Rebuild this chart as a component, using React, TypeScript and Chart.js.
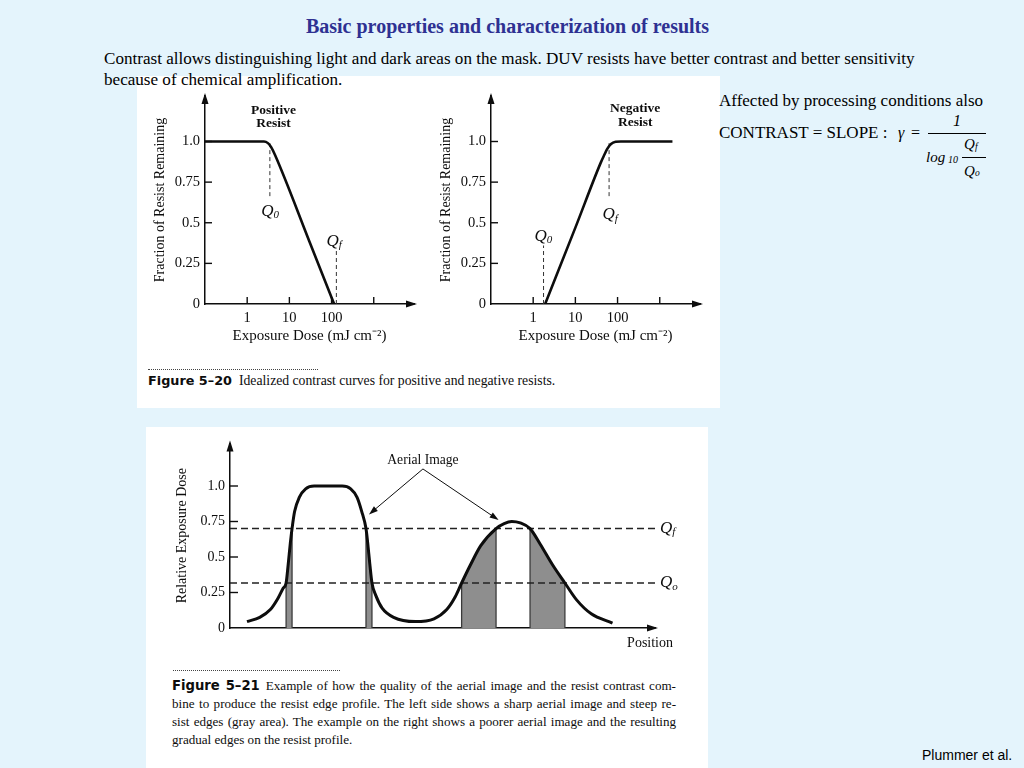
import { useEffect, useRef } from 'react';
import { Chart, registerables } from 'chart.js';

Chart.register(...registerables);

// ---------------- data ----------------
const fractionTicks = [0, 0.25, 0.5, 0.75, 1.0];
const fractionTickLabels = ['0', '0.25', '0.5', '0.75', '1.0'];
const doseTicks = [1, 10, 100, 1000];
const doseTickLabels = ['1', '10', '100', ''];

// Figure 5-20, positive resist
const positiveDose = [0.1, 2.5, 3.1, 3.7, 4.6, 30, 115];
const positiveFraction = [1.0, 1.0, 0.99, 0.965, 0.915, 0.383, 0.0];
const positiveQ0Dose = [3.45, 3.45];
const positiveQ0Fraction = [0.99, 0.65];
const positiveQfDose = [130, 130];
const positiveQfFraction = [0.0, 0.34];

// Figure 5-20, negative resist
const negativeDose = [1.92, 10, 40, 48, 57, 70, 90, 120, 2000];
const negativeFraction = [0.0, 0.47, 0.87, 0.915, 0.955, 0.985, 0.998, 1.0, 1.0];
const negativeQ0Dose = [1.76, 1.76];
const negativeQ0Fraction = [0.0, 0.36];
const negativeQfDose = [63, 63];
const negativeQfFraction = [0.99, 0.65];

// Figure 5-21, aerial image
const exposureTicks = [0, 0.25, 0.5, 0.75, 1.0];
const exposureTickLabels = ['0', '0.25', '0.5', '0.75', '1.0'];
const aerialPosition = [
  4.0, 7.0, 9.5, 11.3, 12.5, 13.2, 13.7, 14.2, 14.6, 15.2, 16.3, 17.8, 19.8,
  26.4, 28.4, 29.9, 31.0, 32.0, 32.4, 32.9, 33.4, 34.3, 35.8, 38.5, 43.6,
  48.0, 51.0, 53.0, 54.5, 56.5, 59.0, 62.6, 64.5, 66.3, 68.3, 70.6, 73.0,
  76.0, 78.8, 81.5, 85.0, 90.0,
];
const aerialExposure = [
  0.045, 0.075, 0.13, 0.21, 0.28, 0.317, 0.45, 0.6, 0.7, 0.82, 0.92, 0.98, 1.0,
  1.0, 0.98, 0.92, 0.82, 0.7, 0.6, 0.45, 0.317, 0.23, 0.14, 0.075, 0.045,
  0.065, 0.13, 0.22, 0.317, 0.44, 0.58, 0.7, 0.735, 0.75, 0.74, 0.7, 0.59,
  0.44, 0.317, 0.2, 0.1, 0.035,
];
const levelQf = 0.7;
const levelQo = 0.317;
const edgeStarts = [13.2, 32.0, 54.5, 70.6];
const edgeEnds = [14.6, 33.4, 62.6, 78.8];

// ---------------- helpers ----------------
const SERIF = '"Liberation Serif", "Times New Roman", serif';
const INK = '#0d0d0d';

type Part = { t: string; font: string; dy?: number; gap?: number };

const qLabel = (sub: string): Part[] => [
  { t: 'Q', font: `italic 17px ${SERIF}` },
  { t: sub, font: `italic 11px ${SERIF}`, dy: 4 },
];

function drawRich(ctx: CanvasRenderingContext2D, parts: Part[], x: number, y: number, align: string) {
  let total = 0;
  parts.forEach((p) => {
    ctx.font = p.font;
    total += ctx.measureText(p.t).width + (p.gap || 0);
  });
  let cx = align === 'center' ? x - total / 2 : align === 'right' ? x - total : x;
  ctx.textAlign = 'left';
  ctx.textBaseline = 'middle';
  parts.forEach((p) => {
    ctx.font = p.font;
    ctx.fillText(p.t, cx, y + (p.dy || 0));
    cx += ctx.measureText(p.t).width + (p.gap || 0);
  });
}

const arrowsPlugin = {
  id: 'axisArrows',
  afterDraw(chart: any) {
    const { ctx, chartArea } = chart;
    const { left, right, top, bottom } = chartArea;
    ctx.save();
    ctx.fillStyle = INK;
    ctx.beginPath();
    ctx.moveTo(left, top - 3);
    ctx.lineTo(left - 3.5, top + 8);
    ctx.lineTo(left + 3.5, top + 8);
    ctx.closePath();
    ctx.fill();
    ctx.beginPath();
    ctx.moveTo(right + 3, bottom);
    ctx.lineTo(right - 8, bottom - 3.5);
    ctx.lineTo(right - 8, bottom + 3.5);
    ctx.closePath();
    ctx.fill();
    ctx.restore();
  },
};

const innerTicksPlugin = {
  id: 'innerTicks',
  afterDraw(chart: any, _a: any, opts: any) {
    const { ctx, chartArea } = chart;
    ctx.save();
    ctx.strokeStyle = INK;
    ctx.lineWidth = 1.4;
    (opts.x || []).forEach((v: number) => {
      const px = chart.scales.x.getPixelForValue(v);
      ctx.beginPath();
      ctx.moveTo(px, chartArea.bottom);
      ctx.lineTo(px, chartArea.bottom - opts.len);
      ctx.stroke();
    });
    (opts.y || []).forEach((v: number) => {
      const py = chart.scales.y.getPixelForValue(v);
      ctx.beginPath();
      ctx.moveTo(chartArea.left, py);
      ctx.lineTo(chartArea.left + opts.len, py);
      ctx.stroke();
    });
    ctx.restore();
  },
};

const notesPlugin = {
  id: 'notes',
  afterDraw(chart: any, _a: any, opts: any) {
    const { ctx } = chart;
    const sx = chart.scales.x;
    const sy = chart.scales.y;
    ctx.save();
    ctx.fillStyle = INK;
    ctx.strokeStyle = INK;
    (opts.arrows || []).forEach((a: any) => {
      const x1 = sx.getPixelForValue(a.x1);
      const y1 = sy.getPixelForValue(a.y1);
      const x2 = sx.getPixelForValue(a.x2);
      const y2 = sy.getPixelForValue(a.y2);
      const ang = Math.atan2(y2 - y1, x2 - x1);
      ctx.lineWidth = 1;
      ctx.beginPath();
      ctx.moveTo(x1, y1);
      ctx.lineTo(x2 - 6 * Math.cos(ang), y2 - 6 * Math.sin(ang));
      ctx.stroke();
      ctx.beginPath();
      ctx.moveTo(x2, y2);
      ctx.lineTo(x2 - 9 * Math.cos(ang) + 3 * Math.sin(ang), y2 - 9 * Math.sin(ang) - 3 * Math.cos(ang));
      ctx.lineTo(x2 - 9 * Math.cos(ang) - 3 * Math.sin(ang), y2 - 9 * Math.sin(ang) + 3 * Math.cos(ang));
      ctx.closePath();
      ctx.fill();
    });
    (opts.items || []).forEach((n: any) => {
      const px = sx.getPixelForValue(n.x) + (n.dx || 0);
      const py = sy.getPixelForValue(n.y) + (n.dy || 0);
      drawRich(ctx, n.parts, px, py, n.align || 'center');
    });
    ctx.restore();
  },
};

const pts = (xs: number[], ys: number[]) => xs.map((x, i) => ({ x, y: ys[i] }));

function resistChart(
  canvas: HTMLCanvasElement,
  dose: number[], frac: number[],
  q0x: number[], q0y: number[], qfx: number[], qfy: number[],
  items: any[],
) {
  const tickFont = { family: SERIF, size: 14.5 };
  return new Chart(canvas, {
    type: 'line',
    data: {
      datasets: [
        { data: pts(dose, frac), borderColor: INK, borderWidth: 2.6, pointRadius: 0, cubicInterpolationMode: 'monotone', fill: false },
        { data: pts(q0x, q0y), borderColor: '#333', borderWidth: 1, borderDash: [4, 3], pointRadius: 0, fill: false },
        { data: pts(qfx, qfy), borderColor: '#333', borderWidth: 1, borderDash: [4, 3], pointRadius: 0, fill: false },
      ],
    },
    options: {
      animation: false,
      responsive: false,
      maintainAspectRatio: false,
      layout: { padding: { top: 16, right: 16, left: 0, bottom: 0 } },
      plugins: {
        legend: { display: false },
        tooltip: { enabled: false },
        innerTicks: { x: doseTicks, y: fractionTicks.slice(1), len: 7 },
        notes: { items },
      },
      scales: {
        x: {
          type: 'logarithmic',
          min: 0.1,
          max: 9000,
          afterFit: (s: any) => { s.height = 46; },
          afterBuildTicks: (s: any) => { s.ticks = doseTicks.map((v) => ({ value: v })); },
          ticks: { callback: (_v: any, i: number) => doseTickLabels[i], font: tickFont, color: INK, padding: 5, autoSkip: false, maxRotation: 0 },
          grid: { display: false, drawTicks: false },
          border: { display: true, color: INK, width: 1.5 },
          title: { display: true, text: 'Exposure Dose (mJ cm\u207B\u00B2)', font: { family: SERIF, size: 15 }, color: INK, padding: { top: 0, bottom: 5 } },
        },
        y: {
          type: 'linear',
          min: 0,
          max: 1.28,
          afterFit: (s: any) => { s.width = 65; },
          afterBuildTicks: (s: any) => { s.ticks = fractionTicks.map((v) => ({ value: v })); },
          ticks: { callback: (_v: any, i: number) => fractionTickLabels[i], font: tickFont, color: INK, padding: 5, autoSkip: false },
          grid: { display: false, drawTicks: false },
          border: { display: true, color: INK, width: 1.5 },
          title: { display: true, text: 'Fraction of Resist Remaining', font: { family: SERIF, size: 14 }, color: INK, padding: { top: 12, bottom: 0 } },
        },
      },
    } as any,
    plugins: [innerTicksPlugin, arrowsPlugin, notesPlugin],
  });
}

function aerialChart(canvas: HTMLCanvasElement) {
  const curve = pts(aerialPosition, aerialExposure);
  const yAt = (x: number) => aerialExposure[aerialPosition.indexOf(x)];
  const bands = edgeStarts.map((s, i) => ({
    data: curve.filter((p) => p.x >= s && p.x <= edgeEnds[i]),
    borderWidth: 0,
    borderColor: 'rgba(0,0,0,0)',
    backgroundColor: '#8e8e8e',
    pointRadius: 0,
    cubicInterpolationMode: 'monotone',
    fill: 'origin',
  }));
  const edges = [...edgeStarts, ...edgeEnds].map((x) => ({
    data: [{ x, y: 0 }, { x, y: yAt(x) }],
    borderColor: '#3a3a3a',
    borderWidth: 1.3,
    pointRadius: 0,
    fill: false,
  }));
  const tickFont = { family: SERIF, size: 14 };
  return new Chart(canvas, {
    type: 'line',
    data: {
      datasets: [
        { data: curve, borderColor: INK, borderWidth: 3, pointRadius: 0, cubicInterpolationMode: 'monotone', fill: false },
        { data: [{ x: 0, y: levelQf }, { x: 100, y: levelQf }], borderColor: '#222', borderWidth: 1.5, borderDash: [7, 4], pointRadius: 0, fill: false },
        { data: [{ x: 0, y: levelQo }, { x: 100, y: levelQo }], borderColor: '#222', borderWidth: 1.5, borderDash: [7, 4], pointRadius: 0, fill: false },
        ...edges,
        ...bands,
      ],
    },
    options: {
      animation: false,
      responsive: false,
      maintainAspectRatio: false,
      layout: { padding: { top: 8, right: 45, left: 0, bottom: 0 } },
      plugins: {
        legend: { display: false },
        tooltip: { enabled: false },
        innerTicks: { y: exposureTicks.slice(1), len: 8 },
        notes: {
          items: [
            { x: 45.4, y: 1.18, parts: [{ t: 'Aerial Image', font: `13.6px ${SERIF}` }] },
            { x: 100, y: levelQf, dx: 5, align: 'left', parts: qLabel('f') },
            { x: 100, y: levelQo, dx: 5, align: 'left', parts: qLabel('o') },
            { x: 100, y: 0, dx: 18, dy: 15, align: 'right', parts: [{ t: 'Position', font: `14px ${SERIF}` }] },
          ],
          arrows: [
            { x1: 45.4, y1: 1.12, x2: 32.7, y2: 0.8 },
            { x1: 45.4, y1: 1.12, x2: 63.2, y2: 0.76 },
          ],
        },
      },
      scales: {
        x: {
          type: 'linear',
          min: 0,
          max: 100,
          afterFit: (s: any) => { s.height = 32; },
          ticks: { display: false },
          grid: { display: false, drawTicks: false },
          border: { display: true, color: INK, width: 1.5 },
        },
        y: {
          type: 'linear',
          min: 0,
          max: 1.3,
          afterFit: (s: any) => { s.width = 80; },
          afterBuildTicks: (s: any) => { s.ticks = exposureTicks.map((v) => ({ value: v })); },
          ticks: { callback: (_v: any, i: number) => exposureTickLabels[i], font: tickFont, color: INK, padding: 5, autoSkip: false },
          grid: { display: false, drawTicks: false },
          border: { display: true, color: INK, width: 1.5 },
          title: { display: true, text: 'Relative Exposure Dose', font: { family: SERIF, size: 14 }, color: INK, padding: { top: 24, bottom: 0 } },
        },
      },
    } as any,
    plugins: [innerTicksPlugin, arrowsPlugin, notesPlugin],
  });
}

const abs = (left: number, top: number, extra: any = {}) => ({ position: 'absolute' as const, left, top, ...extra });

export default function App() {
  const c1 = useRef<HTMLCanvasElement>(null);
  const c2 = useRef<HTMLCanvasElement>(null);
  const c3 = useRef<HTMLCanvasElement>(null);

  useEffect(() => {
    const B = `bold 13.5px ${SERIF}`;
    const charts = [
      resistChart(c1.current!, positiveDose, positiveFraction, positiveQ0Dose, positiveQ0Fraction, positiveQfDose, positiveQfFraction, [
        { x: 4.2, y: 1.19, parts: [{ t: 'Positive', font: B }] },
        { x: 4.2, y: 1.11, parts: [{ t: 'Resist', font: B }] },
        { x: 3.5, y: 0.572, parts: qLabel('0') },
        { x: 115, y: 0.386, parts: qLabel('f') },
      ]),
      resistChart(c2.current!, negativeDose, negativeFraction, negativeQ0Dose, negativeQ0Fraction, negativeQfDose, negativeQfFraction, [
        { x: 262, y: 1.2, parts: [{ t: 'Negative', font: B }] },
        { x: 262, y: 1.115, parts: [{ t: 'Resist', font: B }] },
        { x: 1.75, y: 0.418, parts: qLabel('0') },
        { x: 67, y: 0.55, parts: qLabel('f') },
      ]),
      aerialChart(c3.current!),
    ];
    return () => charts.forEach((c) => c.destroy());
  }, []);

  const serif = SERIF;
  const text = { fontFamily: serif, color: '#000', whiteSpace: 'nowrap' as const };

  return (
    <div style={{ position: 'absolute', left: 0, top: 0, width: 1024, height: 768, background: '#e4f4fc', overflow: 'hidden', fontFamily: serif }}>
      <div style={abs(137, 76, { width: 583, height: 332, background: '#fff' })} />
      <div style={abs(146, 427, { width: 562, height: 341, background: '#fff' })} />

      <div style={abs(0, 14, { width: 1015, textAlign: 'center', font: `bold 20px ${serif}`, lineHeight: '24px', color: '#2e3192', whiteSpace: 'nowrap' })}>
        Basic properties and characterization of results
      </div>

      <div style={abs(104, 48, { ...text, fontSize: 17.1, lineHeight: '21px' })}>
        Contrast allows distinguishing light and dark areas on the mask. DUV resists have better contrast and better sensitivity
      </div>
      <div style={abs(104, 69, { ...text, fontSize: 17.1, lineHeight: '21px' })}>
        because of chemical amplification.
      </div>

      <div style={abs(719, 90, { ...text, fontSize: 17, lineHeight: '21px' })}>Affected by processing conditions also</div>
      <div style={abs(719, 122, { ...text, fontSize: 17, lineHeight: '21px' })}>CONTRAST = SLOPE :</div>
      <div style={abs(898, 122, { ...text, fontSize: 16, lineHeight: '21px', fontStyle: 'italic' })}>γ</div>
      <div style={abs(911, 122, { ...text, fontSize: 16, lineHeight: '21px' })}>=</div>
      <div style={abs(953, 110, { ...text, fontSize: 16, lineHeight: '21px', fontStyle: 'italic' })}>1</div>
      <div style={abs(928, 133, { width: 58, height: 1, background: '#000' })} />
      <div style={abs(926, 147, { ...text, fontSize: 15, lineHeight: '20px', fontStyle: 'italic' })}>log</div>
      <div style={abs(948, 153, { ...text, fontSize: 10, lineHeight: '14px', fontStyle: 'italic' })}>10</div>
      <div style={abs(964, 134, { ...text, fontSize: 15, lineHeight: '20px', fontStyle: 'italic' })}>Q</div>
      <div style={abs(975, 141, { ...text, fontSize: 9.5, lineHeight: '12px', fontStyle: 'italic' })}>f</div>
      <div style={abs(962, 157, { width: 24, height: 1, background: '#000' })} />
      <div style={abs(964, 161, { ...text, fontSize: 15, lineHeight: '20px', fontStyle: 'italic' })}>Q</div>
      <div style={abs(975, 167, { ...text, fontSize: 9.5, lineHeight: '12px', fontStyle: 'italic' })}>o</div>

      <canvas ref={c1} width={290} height={270} style={abs(140, 80, { width: 290, height: 270 })} />
      <canvas ref={c2} width={290} height={270} style={abs(426, 80, { width: 290, height: 270 })} />
      <canvas ref={c3} width={550} height={230} style={abs(150, 430, { width: 550, height: 230 })} />

      <div style={abs(148, 369, { width: 170, borderTop: '1px dotted #444' })} />
      <div style={abs(148, 372, { ...text, fontSize: 13.7, lineHeight: '18px', color: INK })}>
        <span style={{ fontFamily: '"DejaVu Sans", sans-serif', fontWeight: 'bold', fontSize: 12.8, marginRight: 7 }}>Figure 5–20</span>
        Idealized contrast curves for positive and negative resists.
      </div>

      <div style={abs(173, 670, { width: 167, borderTop: '1px dotted #444' })} />
      {[
        ['Example of how the quality of the aerial image and the resist contrast com-', true],
        ['bine to produce the resist edge profile. The left side shows a sharp aerial image and steep re-', true],
        ['sist edges (gray area). The example on the right shows a poorer aerial image and the resulting', true],
        ['gradual edges on the resist profile.', false],
      ].map(([t, just], i) => (
        <div
          key={i}
          style={abs(172, 677 + i * 18, {
            width: 504,
            fontFamily: serif,
            fontSize: 13.1,
            lineHeight: '18px',
            color: INK,
            textAlign: just ? 'justify' : 'left',
            textAlignLast: just ? 'justify' : 'left',
          })}
        >
          {i === 0 && (
            <span style={{ fontFamily: '"DejaVu Sans", sans-serif', fontWeight: 'bold', fontSize: 13.2, marginRight: 6 }}>Figure 5–21</span>
          )}
          {t as string}
        </div>
      ))}

      <div style={abs(922, 746, { fontFamily: '"Liberation Sans", Arial, sans-serif', fontSize: 14, lineHeight: '18px', color: '#000', whiteSpace: 'nowrap' })}>
        Plummer et al.
      </div>
    </div>
  );
}
